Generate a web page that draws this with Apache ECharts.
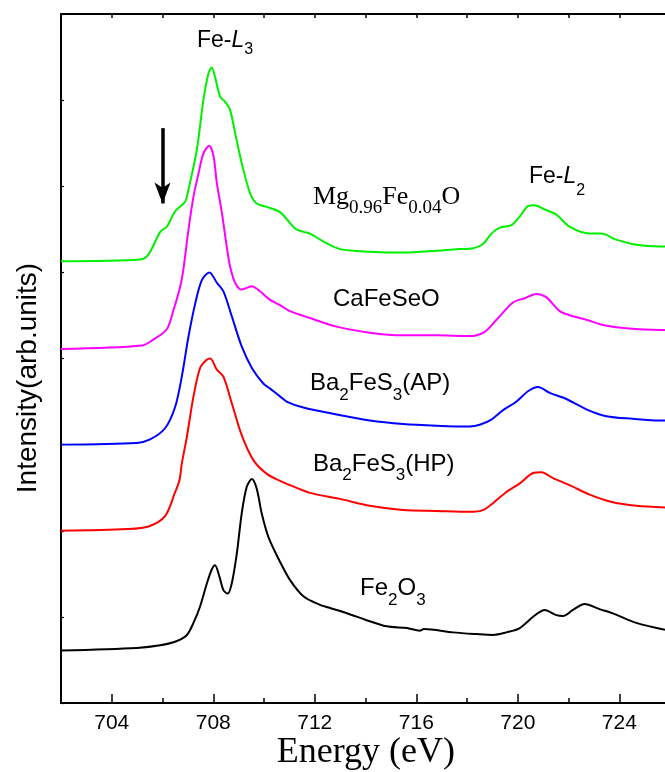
<!DOCTYPE html>
<html>
<head>
<meta charset="utf-8">
<script src="https://cdn.jsdelivr.net/npm/echarts@6/dist/echarts.min.js"></script>
<style>
html,body{margin:0;padding:0;background:#fff;}
#chart{width:665px;height:772px;}
</style>
</head>
<body>
<div id="chart"></div>
<script>
// ---- Data (energy in eV, intensity in arb. units, curves offset vertically) ----
const mgE = [702.00,705.12,705.45,705.91,706.17,706.50,706.89,707.02,707.35,707.61,707.81,707.94,708.07,708.27,708.47,708.66,708.86,709.12,709.45,709.71,710.11,710.63,711.22,711.55,711.81,712.33,712.99,714.17,715.48,716.80,717.71,718.24,718.63,718.96,719.29,719.75,720.08,720.40,720.67,721.06,721.52,722.04,722.83,723.29,723.88,724.67,725.59,725.80];
const mgI = [5.13,5.15,5.21,5.47,5.53,5.71,5.82,5.96,6.42,7.00,7.31,7.38,7.27,7.04,6.98,6.89,6.62,6.27,5.92,5.80,5.76,5.70,5.51,5.47,5.45,5.36,5.27,5.24,5.23,5.25,5.27,5.28,5.33,5.45,5.52,5.55,5.65,5.77,5.78,5.73,5.67,5.53,5.45,5.45,5.38,5.32,5.30,5.30];

const caE = [702.00,705.19,705.64,706.17,706.43,706.70,706.82,707.02,707.22,707.42,707.61,707.84,708.01,708.14,708.34,708.53,708.66,708.86,709.12,709.52,709.84,710.24,710.63,711.02,711.81,712.86,714.17,715.48,716.80,718.11,718.70,719.16,719.81,720.27,720.73,721.13,721.65,722.17,722.70,723.35,724.27,725.59,725.80];
const caI = [4.11,4.15,4.22,4.34,4.56,4.84,5.03,5.49,5.88,6.15,6.38,6.47,6.35,6.04,5.69,5.30,5.07,4.88,4.80,4.84,4.78,4.68,4.62,4.55,4.47,4.37,4.30,4.27,4.27,4.26,4.31,4.45,4.65,4.70,4.75,4.71,4.55,4.49,4.45,4.39,4.35,4.33,4.33];

const apE = [702.00,704.99,705.51,706.10,706.50,706.76,707.02,707.29,707.55,707.85,708.14,708.40,708.73,709.12,709.52,709.97,710.24,710.63,710.89,711.55,712.86,714.17,715.48,716.80,718.11,718.50,718.96,719.42,719.95,720.40,720.80,721.26,721.91,722.70,723.49,724.53,725.59,725.80];
const apI = [3.00,3.02,3.06,3.19,3.44,3.79,4.25,4.64,4.91,5.00,4.88,4.78,4.49,4.14,3.89,3.71,3.65,3.56,3.50,3.43,3.35,3.28,3.24,3.22,3.21,3.23,3.29,3.40,3.50,3.62,3.67,3.60,3.53,3.41,3.33,3.30,3.28,3.28];

const hpE = [702.00,704.60,705.45,706.10,706.50,706.67,706.76,706.96,707.22,707.48,707.72,707.88,708.14,708.40,708.73,709.12,709.58,710.11,710.63,711.02,711.81,712.99,714.17,715.48,716.80,718.11,718.63,719.02,719.55,720.08,720.60,720.93,721.39,722.04,722.83,723.75,724.67,725.80];
const hpI = [2.00,2.02,2.05,2.17,2.45,2.59,2.78,3.09,3.56,3.89,3.98,4.00,3.87,3.79,3.48,3.11,2.82,2.66,2.58,2.53,2.44,2.37,2.29,2.24,2.23,2.22,2.24,2.32,2.45,2.55,2.67,2.68,2.61,2.53,2.42,2.33,2.29,2.27];

const foE = [702.00,704.99,705.91,706.57,706.96,707.22,707.48,707.75,707.94,708.07,708.24,708.40,708.57,708.73,708.93,709.12,709.32,709.52,709.71,709.91,710.17,710.63,711.02,711.55,712.20,712.63,713.29,713.96,714.83,715.63,716.14,716.30,717.45,718.37,719.02,719.55,720.08,720.64,721.06,721.52,721.78,722.17,722.63,723.22,723.75,724.67,725.80];
const foI = [0.61,0.64,0.67,0.72,0.79,0.93,1.12,1.39,1.55,1.60,1.47,1.31,1.27,1.39,1.74,2.20,2.51,2.60,2.49,2.20,1.93,1.64,1.43,1.24,1.14,1.10,1.04,0.97,0.89,0.87,0.84,0.86,0.82,0.80,0.79,0.82,0.87,1.01,1.08,1.02,1.01,1.08,1.15,1.09,1.04,0.93,0.85];

const majorTicks = [704,708,712,716,720,724];
const minorTicks = [706,710,714,718,722];
const topTicks = [704,706,708,710,712,714,716,718,720,722,724];

const yMin = 0;
const yMax = 8;

// arrow (energy, intensity) start -> tip
const arrowE = 706.0;
const arrowFrom = 6.675;
const arrowTo = 5.80;

// ---- Chart ----
const SANS = "'Liberation Sans', Arial, sans-serif";
const SERIF = "'Liberation Serif', 'Times New Roman', serif";

const GRID = { left: 61, right: 0, top: 14, bottom: 69 };
const PLOT_H = 772 - GRID.top - GRID.bottom;
const pxToY = px => px * (yMax - yMin) / PLOT_H;   // tick length in axis units

function zip(xs, ys) { return xs.map((x, i) => [x, ys[i]]); }

// rich label with real subscripts; left/baseline in px
function richLabel(left, baseline, tokens, o) {
  const f = o.f, s = o.s, d = o.d, fam = o.fam;
  const p = d + 0.85 * (f - s);
  const rich = {
    m: { fontSize: f, fontFamily: fam, verticalAlign: 'top', fill: '#000' },
    i: { fontSize: f, fontFamily: fam, fontStyle: 'italic', verticalAlign: 'top', fill: '#000' },
    s: { fontSize: s, fontFamily: fam, verticalAlign: 'top', padding: [p, 0, 0, 0], fill: '#000' }
  };
  const text = tokens.map(t => '{' + t[0] + '|' + t[1] + '}').join('');
  return {
    type: 'text', left: left, top: baseline - 0.85 * f, silent: true,
    style: { text: text, rich: rich, fill: '#000' }
  };
}

function lineSeries(name, xs, ys, color, extra) {
  return Object.assign({
    name: name, type: 'line', data: zip(xs, ys),
    showSymbol: false, smooth: 0.3,
    lineStyle: { color: color, width: 2 }, itemStyle: { color: color },
    silent: true, animation: false
  }, extra || {});
}

// inward tick segments drawn in data coordinates
const tickSegs = []
  .concat(minorTicks.map(v => [{ coord: [v, yMin] }, { coord: [v, yMin + pxToY(5)] }]))
  .concat(topTicks.map(v => [{ coord: [v, yMax] }, { coord: [v, yMax - pxToY(4)] }]));

const chart = echarts.init(document.getElementById('chart'), null, { renderer: 'canvas' });

const xBase = { type: 'value', min: 702, max: 725.8, splitLine: { show: false } };

chart.setOption({
  backgroundColor: '#fff',
  animation: false,
  grid: Object.assign({ outerBoundsMode: 'none', containLabel: false }, GRID),
  xAxis: [
    Object.assign({}, xBase, {
      position: 'bottom',
      axisLine: { show: true, onZero: false, lineStyle: { color: '#000', width: 2 } },
      axisTick: { show: true, inside: true, length: 9, customValues: majorTicks, lineStyle: { color: '#000', width: 1.5 } },
      axisLabel: { show: true, customValues: majorTicks, margin: 10, fontSize: 21, fontFamily: SANS, color: '#000' }
    }),
    Object.assign({}, xBase, {
      position: 'top',
      axisLine: { show: true, onZero: false, lineStyle: { color: '#000', width: 2 } },
      axisTick: { show: false },
      axisLabel: { show: false }
    })
  ],
  yAxis: [{
    type: 'value', min: yMin, max: yMax, interval: 1, position: 'left',
    axisLine: { show: true, onZero: false, lineStyle: { color: '#000', width: 2 } },
    axisTick: { show: true, inside: true, length: 3, lineStyle: { color: '#000', width: 1.2 } },
    axisLabel: { show: false },
    splitLine: { show: false }
  }],
  series: [
    lineSeries('Fe2O3', foE, foI, '#000000', {
      markLine: {
        silent: true, animation: false, symbol: ['none', 'none'],
        label: { show: false }, emphasis: { disabled: true },
        lineStyle: { color: '#000', width: 1.5, type: 'solid' },
        data: tickSegs
      }
    }),
    lineSeries('Ba2FeS3(HP)', hpE, hpI, '#ff0000'),
    lineSeries('Ba2FeS3(AP)', apE, apI, '#0000ff'),
    lineSeries('CaFeSeO', caE, caI, '#ff00ff'),
    lineSeries('Mg0.96Fe0.04O', mgE, mgI, '#00f000', {
      markLine: {
        silent: true, animation: false,
        symbol: ['none', 'arrow'], symbolSize: [12, 21],
        label: { show: false },
        lineStyle: { color: '#000', width: 3.5, type: 'solid' },
        emphasis: { disabled: true },
        data: [[{ coord: [arrowE, arrowFrom] }, { coord: [arrowE, arrowTo] }]]
      }
    })
  ],
  graphic: [
    richLabel(197, 48.3, [['m', 'Fe-'], ['i', 'L'], ['s', '3']], { f: 23, s: 16, d: 7, fam: SANS }),
    richLabel(529, 185, [['m', 'Fe-'], ['i', 'L'], ['s', '2']], { f: 23, s: 16, d: 11, fam: SANS }),
    richLabel(313, 206.5, [['m', 'Mg'], ['s', '0.96'], ['m', 'Fe'], ['s', '0.04'], ['m', 'O']], { f: 26, s: 19, d: 8.5, fam: SERIF }),
    richLabel(333, 307.3, [['m', 'CaFeSeO']], { f: 24, s: 17, d: 9, fam: SANS }),
    richLabel(310, 391.7, [['m', 'Ba'], ['s', '2'], ['m', 'FeS'], ['s', '3'], ['m', '(AP)']], { f: 24, s: 17, d: 10, fam: SANS }),
    richLabel(313, 472.3, [['m', 'Ba'], ['s', '2'], ['m', 'FeS'], ['s', '3'], ['m', '(HP)']], { f: 24, s: 17, d: 8.5, fam: SANS }),
    richLabel(360, 596.7, [['m', 'Fe'], ['s', '2'], ['m', 'O'], ['s', '3']], { f: 24, s: 17, d: 9.3, fam: SANS }),
    {
      type: 'text', x: 365.8, y: 752.8, silent: true,
      style: { text: 'Energy (eV)', fontFamily: SERIF, fontSize: 36, fill: '#000', align: 'center', verticalAlign: 'middle' }
    },
    {
      type: 'text', x: 28, y: 378, rotation: Math.PI / 2, silent: true,
      style: { text: 'Intensity(arb.units)', fontFamily: SANS, fontSize: 28, fill: '#000', align: 'center', verticalAlign: 'middle' }
    }
  ]
});
</script>
</body>
</html>
